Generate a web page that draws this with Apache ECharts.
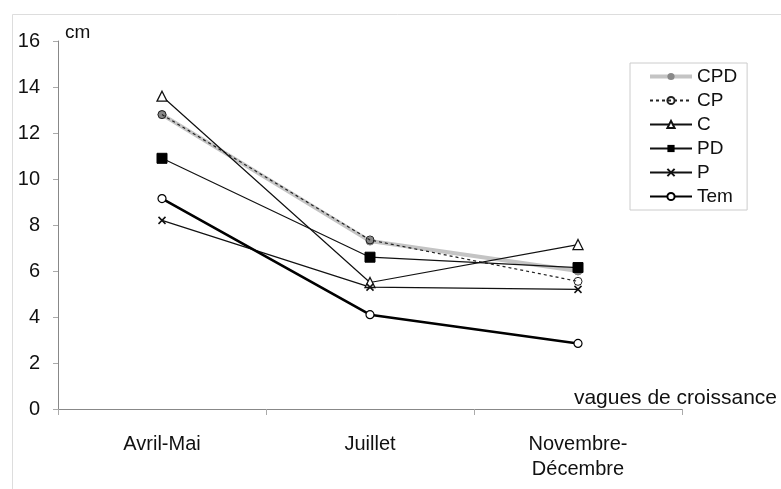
<!DOCTYPE html>
<html><head><meta charset="utf-8">
<script src="https://cdn.jsdelivr.net/npm/echarts@6/dist/echarts.min.js"></script>
<style>html,body{margin:0;padding:0;background:#fff}#c{width:781px;height:489px}</style>
</head><body><div id="c"></div>
<script>
const categories = ['Avril-Mai', 'Juillet', 'Novembre-\nDécembre'];
const seriesNames = ['CPD', 'CP', 'C', 'PD', 'P', 'Tem'];
const CPD = [12.8, 7.3, 6.0];
const CP = [12.8, 7.35, 5.55];
const C = [13.6, 5.5, 7.15];
const PD = [10.9, 6.6, 6.15];
const P = [8.2, 5.3, 5.2];
const Tem = [9.15, 4.1, 2.85];
const yTicks = [0, 16, 2];

const font = 'Liberation Sans, Arial, sans-serif';
const chart = echarts.init(document.getElementById('c'));
chart.setOption({
  animation: false,
  backgroundColor: '#fff',
  grid: {left: 58, right: 99, top: 41, bottom: 80},
  legend: {
    orient: 'vertical', left: 630, top: 63,
    padding: [4, 10, 4, 18], itemGap: 5, itemWidth: 42, itemHeight: 9,
    borderColor: '#ccc', borderWidth: 1,
    textStyle: {fontFamily: font, fontSize: 19, color: '#111'},
    data: [{name: 'CPD', lineStyle: {width: 4, color: '#c4c4c4'}}, 'CP', 'C', 'PD', 'P', 'Tem']
  },
  xAxis: {
    type: 'category', data: categories, boundaryGap: true,
    axisLine: {lineStyle: {color: '#888'}},
    axisTick: {show: true, length: 6, interval: 0, lineStyle: {color: '#aaa'}},
    axisLabel: {margin: 23, fontFamily: font, fontSize: 20, color: '#111', lineHeight: 25, interval: 0}
  },
  yAxis: {
    type: 'value', min: yTicks[0], max: yTicks[1], interval: yTicks[2],
    splitLine: {show: false},
    axisLine: {show: true, lineStyle: {color: '#888'}},
    axisTick: {show: true, length: 5, lineStyle: {color: '#aaa'}},
    axisLabel: {margin: 18, fontFamily: font, fontSize: 20, color: '#111'}
  },
  graphic: [
    {type: 'rect', left: 10, top: 12, silent: true, z: -10,
     shape: {width: 800, height: 500}, style: {fill: 'none', stroke: '#ddd', lineWidth: 1}},
    {type: 'text', left: 65, top: 23, style: {text: 'cm', font: '19px ' + font, fill: '#111'}},
    {type: 'text', right: 4, top: 388, style: {text: 'vagues de croissance', font: '21px ' + font, fill: '#111'}}
  ],
  series: [
    {name: 'CPD', type: 'line', data: CPD, symbol: 'circle', symbolSize: 8,
     lineStyle: {color: '#c4c4c4', width: 4}, itemStyle: {color: '#888', borderColor: '#888'}, z: 1},
    {name: 'CP', type: 'line', data: CP, symbol: 'circle', symbolSize: 8,
     lineStyle: {color: '#222', width: 1.2, type: [3, 3]},
     itemStyle: {color: 'rgba(255,255,255,0)', borderColor: '#222', borderWidth: 1}, z: 2},
    {name: 'C', type: 'line', data: C, symbol: 'triangle', symbolSize: 10,
     lineStyle: {color: '#111', width: 1.2}, itemStyle: {color: '#fff', borderColor: '#111', borderWidth: 1.3}, z: 3},
    {name: 'PD', type: 'line', data: PD, symbol: 'rect', symbolSize: 10,
     lineStyle: {color: '#111', width: 1.2}, itemStyle: {color: '#000', borderColor: '#000'}, z: 3},
    {name: 'P', type: 'line', data: P, symbol: 'path://M0,0L10,10M10,0L0,10', symbolSize: 7,
     lineStyle: {color: '#111', width: 1.2}, itemStyle: {color: 'none', borderColor: '#111', borderWidth: 1.5}, z: 3},
    {name: 'Tem', type: 'line', data: Tem, symbol: 'circle', symbolSize: 8,
     lineStyle: {color: '#000', width: 2.6}, itemStyle: {color: '#fff', borderColor: '#000', borderWidth: 1.2}, z: 3}
  ]
});
</script></body></html>
